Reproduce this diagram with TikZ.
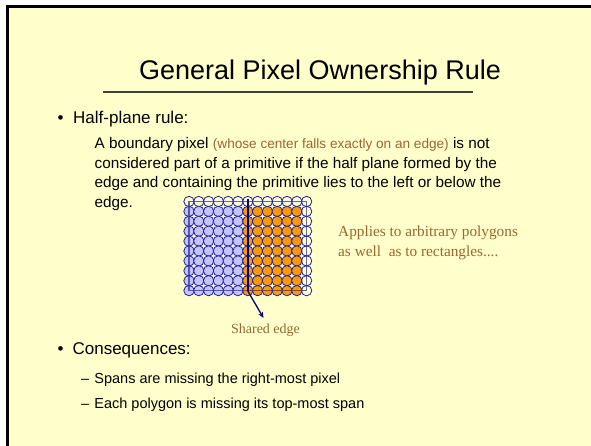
\documentclass[tikz,border=0pt]{standalone}
\usepackage{fontspec}
\usetikzlibrary{arrows.meta}
\setmainfont{Liberation Sans}
\newfontfamily\serifface{Liberation Serif}
\definecolor{slidebg}{HTML}{FFFFCC}
\definecolor{brownish}{HTML}{996633}
\definecolor{navy}{HTML}{000080}
\definecolor{ringblue}{HTML}{2020A0}
\definecolor{lav}{HTML}{C4C4FF}
\definecolor{orng}{HTML}{FF9900}
\begin{document}
\begin{tikzpicture}[x=1pt,y=1pt,
  txt/.style={anchor=base west, inner sep=0pt, text=black},
  head/.style={txt, font=\fontsize{17}{20}\selectfont},
  body/.style={txt, font=\fontsize{15.3}{19}\selectfont},
  sub/.style={txt, font=\fontsize{14.5}{18}\selectfont},
  pix/.style={draw=ringblue, line width=0.8pt},
  note/.style={inner sep=0pt, text=brownish, font=\serifface\fontsize{15.3}{19}\selectfont}]
\useasboundingbox (0,0) rectangle (591,-445);
\fill[white] (0,0) rectangle (591,-445);
\fill[slidebg] (7.5,-6.5) rectangle (595,-450);
\draw[black, line width=3pt] (7.5,-450) -- (7.5,-6.5) -- (595,-6.5);
% title
\node[txt, font=\fontsize{27}{32}\selectfont] (title) at (139,-79) {General Pixel Ownership Rule};
\draw[line width=1.6pt, black!75] (103,-92) coordinate (ul1) -- (473,-92) coordinate (ul2);
% bullet 1
\node[head] (b1) at (57.5,-123) {\textbullet};
\node[head] (h1) at (73,-123) {Half-plane rule:};
\node[body] (p1) at (94.5,-148.5) {A boundary pixel \textcolor{brownish}{\fontsize{13.6}{19}\selectfont(whose center falls exactly on an edge)} is not};
\node[body] (p2) at (94.5,-168.2) {considered part of a primitive if the half plane formed by the};
\node[body] (p3) at (94.5,-187.9) {edge and containing the primitive lies to the left or below the};
\node[body] (p4) at (94.5,-207.6) {edge.};
% pixel grid
\foreach \i in {0,...,12}{
  \foreach \j in {0,...,9}{
    \pgfmathsetmacro{\cx}{189+\i*9.8}
    \pgfmathsetmacro{\cy}{-201.5-\j*9.9}
    \ifnum\j=0
      \draw[pix] (\cx,\cy) circle (5.2);
    \else\ifnum\i=12
      \draw[pix] (\cx,\cy) circle (5.2);
    \else\ifnum\i<6
      \draw[pix, fill=lav] (\cx,\cy) circle (5.2);
    \else
      \draw[pix, fill=orng] (\cx,\cy) circle (5.2);
    \fi\fi\fi
  }
}
\draw[navy!80, opacity=0.75, line width=1.3pt] (189,-201.5) rectangle (306.6,-290.6);
\coordinate (etop) at (247.8,-199);
\coordinate (ebot) at (247.8,-291);
\draw[navy, line width=1.8pt] (etop) -- (ebot);
\node[note, anchor=base, font=\serifface\fontsize{14}{17}\selectfont] (shared) at (265.5,-333) {Shared edge};
\draw[navy, line width=1.3pt, -{Stealth[length=6pt,width=5pt]}] (ebot) -- (263.5,-318);
\node[note, anchor=base west] (app1) at (338,-236.5) {Applies to arbitrary polygons};
\node[note, anchor=base west] (app2) at (338,-256) {as well\ \ as to rectangles....};
% bullet 2
\node[head] (b2) at (57.5,-354) {\textbullet};
\node[head] (h2) at (72.4,-354) {Consequences:};
\node[sub] (d1) at (81,-383) {–};
\node[sub] (s1) at (94.2,-383) {Spans are missing the right-most pixel};
\node[sub] (d2) at (81,-408) {–};
\node[sub] (s2) at (94.2,-408) {Each polygon is missing its top-most span};
\end{tikzpicture}
\end{document}
